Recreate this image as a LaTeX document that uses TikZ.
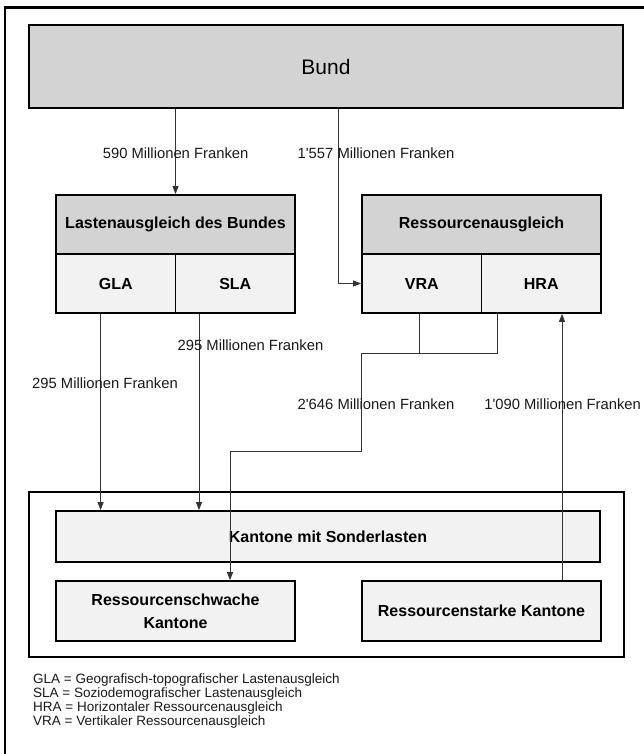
\documentclass[tikz,border=0pt]{standalone}
\usepackage{fontspec}
\setmainfont{Liberation Sans}[Ligatures=TeXOff]
\usetikzlibrary{arrows.meta}
\definecolor{hdrgray}{HTML}{D3D3D3}
\definecolor{cellgray}{HTML}{F2F2F2}
\definecolor{linegray}{HTML}{333333}
\tikzset{
  box/.style={draw=black, line width=1.8pt, inner sep=0pt, align=center},
  hdr/.style={box, fill=hdrgray, font=\fontsize{16}{19}\selectfont\bfseries},
  cell/.style={box, fill=cellgray, font=\fontsize{16}{19}\selectfont\bfseries},
  frame/.style={box, fill=white},
  conn/.style={draw=linegray, line width=0.9pt, -{Triangle[length=8pt,width=6pt]}},
  plain/.style={draw=linegray, line width=0.9pt},
  lbl/.style={inner sep=0pt, font=\fontsize{14.8}{17}\selectfont, text=black!90},
  legend/.style={inner sep=0pt, anchor=west, font=\fontsize{13.5}{16}\selectfont, text=black!90}
}
\begin{document}
\begin{tikzpicture}[x=1pt, y=-1pt]
\useasboundingbox (0,0) rectangle (644,754);
% outer frame (top and left only visible)
\draw[line width=2.3pt] (5,754) -- (5,7.5) -- (644,7.5);

% Bund
\node[box, fill=hdrgray, minimum width=594pt, minimum height=83pt,
      font=\fontsize{21}{24}\selectfont] (bund) at (326,66.5) {Bund};

% Lastenausgleich des Bundes
\node[hdr, minimum width=239pt, minimum height=59pt] (lah) at (175.5,224.5) {Lastenausgleich des Bundes};
\node[cell, minimum width=119.5pt, minimum height=59pt] (gla) at (115.75,283.5) {GLA};
\node[cell, minimum width=119.5pt, minimum height=59pt] (sla) at (235.25,283.5) {SLA};

% Ressourcenausgleich
\node[hdr, minimum width=239pt, minimum height=59pt] (rah) at (481.5,224.5) {Ressourcenausgleich};
\node[cell, minimum width=119.5pt, minimum height=59pt] (vra) at (421.75,283.5) {VRA};
\node[cell, minimum width=119.5pt, minimum height=59pt] (hra) at (541.25,283.5) {HRA};

% Kantone container
\node[frame, minimum width=595pt, minimum height=165pt] (kant) at (326.5,574.5) {};
\node[cell, minimum width=544pt, minimum height=51pt] (ks) at (328,536.5) {Kantone mit Sonderlasten};
\node[cell, minimum width=239pt, minimum height=60pt, font=\fontsize{16}{23}\selectfont\bfseries] (rsw) at (175.5,611) {Ressourcenschwache\\Kantone};
\node[cell, minimum width=239pt, minimum height=60pt] (rst) at (481.5,611) {Ressourcenstarke Kantone};

% helper coordinates
\coordinate (xb) at (338,0);
\coordinate (xg) at (100.6,0);
\coordinate (xs) at (199,0);
\coordinate (xv) at (419,0);
\coordinate (xh) at (497.7,0);
\coordinate (xu) at (562,0);
\coordinate (j1) at (361.4,353);
\coordinate (j2) at (230,451.7);

% connectors
\draw[conn] (bund.south -| lah.north) -- (lah.north);
\draw[conn] (bund.south -| xb) |- (vra.west);
\draw[conn] (gla.south -| xg) -- (ks.north -| xg);
\draw[conn] (sla.south -| xs) -- (ks.north -| xs);
\draw[plain] (vra.south -| xv) -- (xv |- j1);
\draw[conn] (hra.south -| xh) |- (j1) |- (j2) -- (rsw.north -| j2);
\draw[conn] (rst.north -| xu) -- (hra.south -| xu);

% labels
\node[lbl] (l590) at (175.6,153) {590 Millionen Franken};
\node[lbl] (l1557) at (376,153) {1'557 Millionen Franken};
\node[lbl] (l295a) at (105,383) {295 Millionen Franken};
\node[lbl] (l295b) at (250.5,345) {295 Millionen Franken};
\node[lbl] (l2646) at (376,404) {2'646 Millionen Franken};
\node[lbl] (l1090) at (562.6,404) {1'090 Millionen Franken};

% legend
\node[legend] (lg1) at (33,680) {GLA = Geografisch-topografischer Lastenausgleich};
\node[legend] (lg2) at (33,694) {SLA = Soziodemografischer Lastenausgleich};
\node[legend] (lg3) at (33,708) {HRA = Horizontaler Ressourcenausgleich};
\node[legend] (lg4) at (33,722) {VRA = Vertikaler Ressourcenausgleich};
\end{tikzpicture}
\end{document}
